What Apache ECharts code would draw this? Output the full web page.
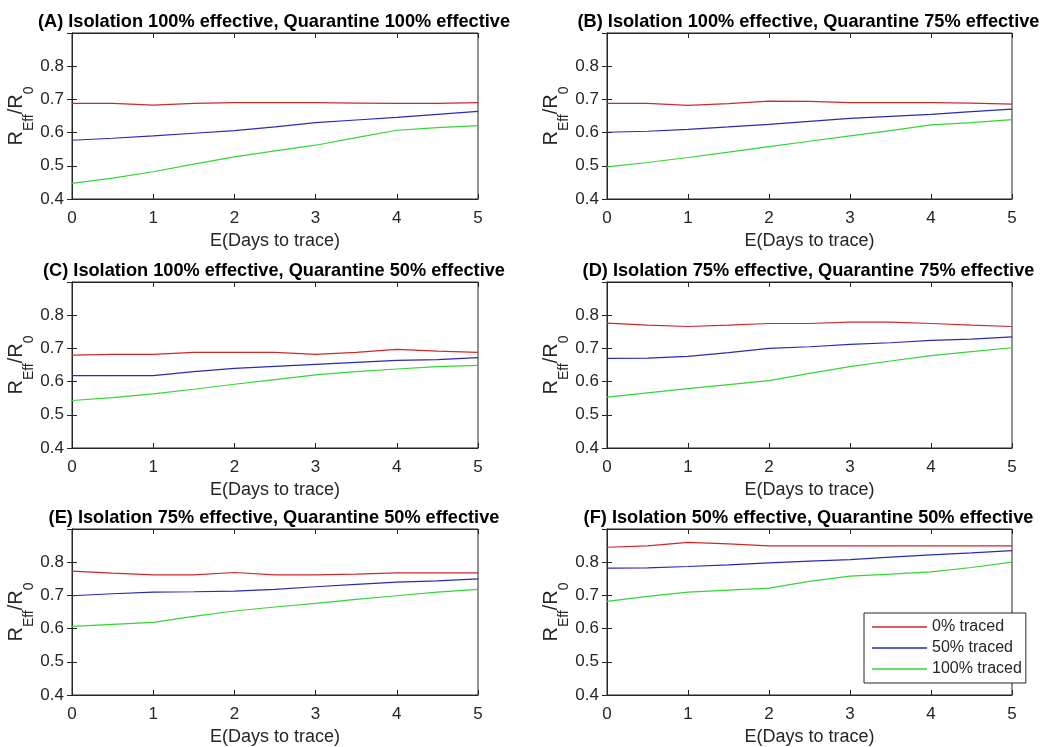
<!DOCTYPE html>
<html><head><meta charset="utf-8">
<script src="https://cdn.jsdelivr.net/npm/echarts@6/dist/echarts.min.js"></script>
<style>html,body{margin:0;padding:0;background:#fff}#c{width:1049px;height:747px}</style>
</head><body><div id="c"></div>
<script>
var days = [0,0.5,1,1.5,2,2.5,3,3.5,4,4.5,5];
var seriesNames = ['0% traced','50% traced','100% traced'];
var panelTitles = [
  '(A) Isolation 100% effective, Quarantine 100% effective',
  '(B) Isolation 100% effective, Quarantine 75% effective',
  '(C) Isolation 100% effective, Quarantine 50% effective',
  '(D) Isolation 75% effective, Quarantine 75% effective',
  '(E) Isolation 75% effective, Quarantine 50% effective',
  '(F) Isolation 50% effective, Quarantine 50% effective'
];
var yTicks = [0.4,0.5,0.6,0.7,0.8];
var xTicks = [0,1,2,3,4,5];

var redA   = [0.688,0.688,0.683,0.688,0.690,0.690,0.690,0.689,0.688,0.688,0.690];
var blueA  = [0.577,0.583,0.590,0.598,0.606,0.617,0.630,0.638,0.646,0.655,0.664];
var greenA = [0.447,0.463,0.482,0.505,0.527,0.545,0.562,0.585,0.607,0.615,0.621];

var redB   = [0.688,0.688,0.682,0.687,0.695,0.694,0.690,0.690,0.690,0.689,0.686];
var blueB  = [0.601,0.604,0.610,0.617,0.625,0.634,0.643,0.649,0.655,0.663,0.671];
var greenB = [0.497,0.510,0.525,0.541,0.558,0.574,0.590,0.606,0.623,0.630,0.639];

var redC   = [0.680,0.682,0.682,0.688,0.688,0.688,0.682,0.688,0.697,0.692,0.688];
var blueC  = [0.618,0.618,0.618,0.630,0.640,0.646,0.652,0.658,0.664,0.666,0.672];
var greenC = [0.543,0.552,0.563,0.577,0.592,0.606,0.620,0.630,0.638,0.645,0.649];

var redD   = [0.776,0.770,0.766,0.770,0.775,0.775,0.779,0.779,0.775,0.770,0.766];
var blueD  = [0.670,0.671,0.676,0.687,0.700,0.705,0.712,0.717,0.724,0.728,0.735];
var greenD = [0.553,0.566,0.579,0.591,0.603,0.625,0.645,0.662,0.678,0.690,0.702];

var redE   = [0.773,0.767,0.762,0.762,0.769,0.762,0.762,0.764,0.768,0.768,0.768];
var blueE  = [0.699,0.705,0.710,0.711,0.713,0.718,0.726,0.733,0.740,0.744,0.750];
var greenE = [0.607,0.613,0.619,0.637,0.653,0.665,0.676,0.688,0.699,0.710,0.718];

var redF   = [0.845,0.849,0.860,0.855,0.849,0.849,0.849,0.849,0.849,0.849,0.849];
var blueF  = [0.782,0.783,0.787,0.792,0.798,0.803,0.808,0.815,0.822,0.828,0.835];
var greenF = [0.682,0.697,0.710,0.716,0.722,0.742,0.758,0.764,0.771,0.784,0.800];

var panels = [
  [redA, blueA, greenA],
  [redB, blueB, greenB],
  [redC, blueC, greenC],
  [redD, blueD, greenD],
  [redE, blueE, greenE],
  [redF, blueF, greenF]
];
var colors = ['#cc2a2a','#2a2ab4','#33d633'];

var colLeft = [72, 607];
var colWidth = [406, 405];
var rowTop = [33, 282, 529];
var plotH = 166;
var axisColor = '#262626';
var font = '"Liberation Sans", Arial, Helvetica, sans-serif';

var grids = [], xAxes = [], yAxes = [], series = [], titles = [];
for (var p = 0; p < 6; p++) {
  var col = p % 2, row = Math.floor(p / 2);
  grids.push({left: colLeft[col], top: rowTop[row], width: colWidth[col], height: plotH,
    show: true, borderColor: axisColor, borderWidth: 1, backgroundColor: '#fff'});
  titles.push({text: panelTitles[p], left: colLeft[col] + colWidth[col] / 2 - 6, top: rowTop[row] - 25,
    textAlign: 'center',
    textStyle: {fontFamily: font, fontWeight: 'bold', fontSize: 18.2, color: '#000'}});
  xAxes.push({type: 'value', gridIndex: p, min: xTicks[0], max: xTicks[xTicks.length - 1], interval: 1,
    name: 'E(Days to trace)', nameLocation: 'middle', nameGap: 33,
    nameTextStyle: {fontFamily: font, fontSize: 18, color: axisColor},
    axisLine: {show: true, lineStyle: {color: axisColor, width: 1}},
    axisTick: {show: true, inside: true, length: 5, lineStyle: {color: axisColor}},
    axisLabel: {fontFamily: font, fontSize: 17, color: axisColor, margin: 11},
    splitLine: {show: false}});
  xAxes.push({type: 'value', gridIndex: p, position: 'top', min: 0, max: 5, interval: 1,
    axisLine: {show: true, lineStyle: {color: axisColor, width: 1}},
    axisTick: {show: true, inside: true, length: 5, lineStyle: {color: axisColor}},
    axisLabel: {show: false}, splitLine: {show: false}});
  yAxes.push({type: 'value', gridIndex: p, min: 0.4, max: 0.9, interval: 0.1,
    name: '{m|R}{s|Eff}{m|/R}{s|0}', nameLocation: 'middle', nameGap: 30, nameRotate: 90,
    nameTextStyle: {fontFamily: font, color: axisColor,
      rich: {m: {fontFamily: font, fontSize: 20, color: axisColor, lineHeight: 20, verticalAlign: 'top'},
             s: {fontFamily: font, fontSize: 14, color: axisColor, lineHeight: 30, verticalAlign: 'bottom'}}},
    axisLine: {show: true, lineStyle: {color: axisColor, width: 1}},
    axisTick: {show: true, inside: true, length: 5, lineStyle: {color: axisColor}},
    axisLabel: {fontFamily: font, fontSize: 17, color: axisColor, margin: 8,
      formatter: function (v) { return yTicks.indexOf(Math.round(v * 10) / 10) >= 0 ? v.toFixed(1) : ''; }},
    splitLine: {show: false}});
  yAxes.push({type: 'value', gridIndex: p, position: 'right', min: 0.4, max: 0.9, interval: 0.1,
    axisLine: {show: true, lineStyle: {color: axisColor, width: 1}},
    axisTick: {show: true, inside: true, length: 5, lineStyle: {color: axisColor}},
    axisLabel: {show: false}, splitLine: {show: false}});
  for (var s = 0; s < 3; s++) {
    series.push({type: 'line', name: seriesNames[s], xAxisIndex: p * 2, yAxisIndex: p * 2,
      data: days.map(function (d, i) { return [d, panels[p][s][i]]; }),
      symbol: 'none', showSymbol: false, silent: true, animation: false,
      lineStyle: {color: colors[s], width: 1.2}, itemStyle: {color: colors[s]}, z: 3});
  }
}

var chart = echarts.init(document.getElementById('c'), null, {renderer: 'canvas'});
chart.setOption({
  animation: false,
  backgroundColor: '#fff',
  title: titles,
  grid: grids,
  xAxis: xAxes,
  yAxis: yAxes,
  legend: {data: seriesNames.map(function (n) { return {name: n, icon: 'rect'}; }),
    orient: 'vertical', left: 864, top: 613,
    padding: [6, 4, 6, 8], itemGap: 5, itemWidth: 55, itemHeight: 1.6,
    backgroundColor: '#fff', borderColor: axisColor, borderWidth: 1, borderRadius: 0,
    textStyle: {fontFamily: font, fontSize: 16, color: axisColor},
    selectedMode: false},
  series: series
});
</script>
</body></html>
